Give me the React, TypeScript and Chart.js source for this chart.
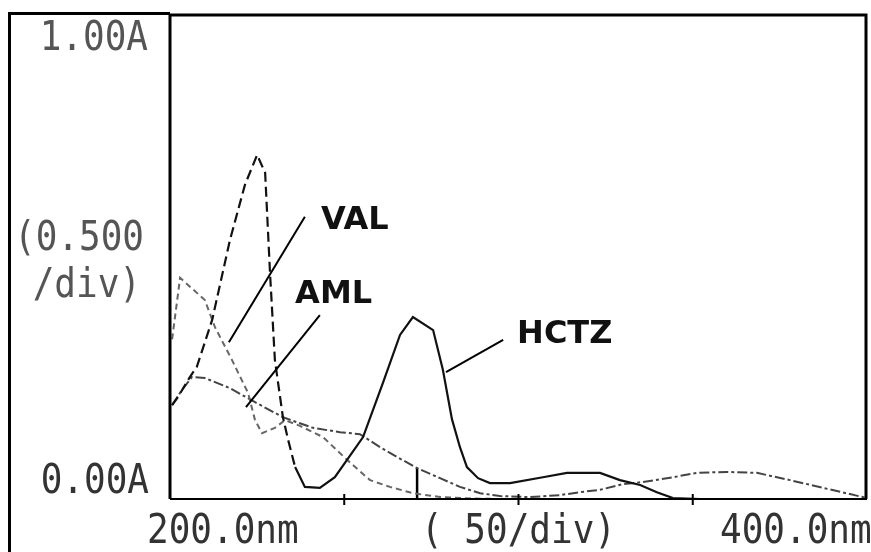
import React, { useEffect, useRef } from "react";
import { Chart, registerables } from "chart.js";

Chart.register(...registerables);

const W = 871;
const H = 552;

// ---- data (wavelength in nm, absorbance in A) ----
const hctzNm = [200.6, 202.3, 205.7, 207.7, 212.1, 217.2, 221.5, 225.0, 227.3, 228.7, 230.1, 232.4, 233.9, 235.9, 238.7, 243.0, 247.3, 250.8, 255.4, 261.1, 266.0, 269.7, 275.5, 278.3, 280.9, 283.2, 285.2, 288.4, 291.8, 297.6, 307.0, 313.9, 323.4, 329.1, 334.9, 339.7, 344.3, 352.1, 400.0];
const hctzAbs = [0.194, 0.211, 0.252, 0.273, 0.370, 0.535, 0.649, 0.711, 0.674, 0.467, 0.287, 0.169, 0.122, 0.066, 0.025, 0.023, 0.045, 0.081, 0.128, 0.240, 0.339, 0.376, 0.349, 0.267, 0.165, 0.107, 0.066, 0.043, 0.033, 0.033, 0.045, 0.054, 0.054, 0.039, 0.029, 0.014, 0.002, 0.0, 0.0];

const valNm = [200.6, 202.9, 210.0, 212.9, 217.8, 222.4, 224.4, 226.4, 230.1, 233.0, 237.3, 243.9, 250.8, 257.4, 263.1, 269.7, 277.5, 286.1, 294.7, 400.0];
const valAbs = [0.33, 0.457, 0.411, 0.355, 0.287, 0.219, 0.163, 0.136, 0.147, 0.163, 0.151, 0.128, 0.081, 0.039, 0.025, 0.012, 0.004, 0.001, 0.0, 0.0];

const amlNm = [200.6, 203.4, 206.3, 210.0, 217.2, 224.4, 232.4, 241.0, 248.8, 254.5, 260.3, 265.1, 270.9, 277.5, 283.2, 289.0, 294.7, 303.3, 311.9, 317.6, 323.4, 330.0, 335.7, 344.3, 351.2, 359.8, 368.4, 377.9, 387.4, 400.0];
const amlAbs = [0.194, 0.225, 0.252, 0.25, 0.229, 0.2, 0.169, 0.147, 0.138, 0.134, 0.107, 0.087, 0.064, 0.043, 0.025, 0.012, 0.006, 0.004, 0.008, 0.014, 0.019, 0.031, 0.035, 0.045, 0.054, 0.056, 0.054, 0.039, 0.023, 0.002];

const markerNm = [270.9, 270.9];
const markerAbs = [0.0, 0.064];

// axis text
const yLabelText = ["1.00A", "(0.500", "/div)", "0.00A"];
const xLabelText = ["200.0nm", "( 50/div)", "400.0nm"];
const xTickNm = [250, 300, 350];

// annotations (anchored in data space)
const annoText = ["VAL", "AML", "HCTZ"];
const annoTextNm = [243.3, 235.9, 299.6];
const annoTextAbs = [0.558, 0.405, 0.322];
const leaderFromNm = [238.7, 243.0, 295.6];
const leaderFromAbs = [0.583, 0.38, 0.329];
const leaderToNm = [216.9, 221.8, 279.2];
const leaderToAbs = [0.324, 0.19, 0.262];

const toPts = (xs: number[], ys: number[]) => xs.map((x, i) => ({ x, y: ys[i] }));

const MONO = '40px "DejaVu Sans Mono", monospace';

function monoText(ctx: CanvasRenderingContext2D, t: string, x: number, y: number, align: CanvasTextAlign) {
  ctx.save();
  ctx.translate(x, y);
  ctx.scale(0.9, 1);
  ctx.font = MONO;
  ctx.textAlign = align;
  ctx.textBaseline = "alphabetic";
  ctx.fillText(t, 0, 0);
  ctx.restore();
}

const framePlugin = {
  id: "framePlugin",
  beforeDraw(chart: any) {
    const ctx = chart.ctx as CanvasRenderingContext2D;
    ctx.save();
    ctx.fillStyle = "#fff";
    ctx.fillRect(0, 0, W, H);
    ctx.restore();
  },
  afterDatasetsDraw(chart: any) {
    const ctx = chart.ctx as CanvasRenderingContext2D;
    const xs = chart.scales.x;
    const ys = chart.scales.y;
    ctx.save();
    // leader lines
    ctx.strokeStyle = "#000";
    ctx.lineWidth = 2;
    for (let i = 0; i < annoText.length; i++) {
      ctx.beginPath();
      ctx.moveTo(xs.getPixelForValue(leaderFromNm[i]), ys.getPixelForValue(leaderFromAbs[i]));
      ctx.lineTo(xs.getPixelForValue(leaderToNm[i]), ys.getPixelForValue(leaderToAbs[i]));
      ctx.stroke();
    }
    ctx.fillStyle = "#111";
    ctx.font = 'bold 32px "DejaVu Sans", sans-serif';
    ctx.textAlign = "left";
    ctx.textBaseline = "alphabetic";
    for (let i = 0; i < annoText.length; i++) {
      ctx.fillText(annoText[i], xs.getPixelForValue(annoTextNm[i]), ys.getPixelForValue(annoTextAbs[i]));
    }
    ctx.restore();
  },
  afterDraw(chart: any) {
    const ctx = chart.ctx as CanvasRenderingContext2D;
    const a = chart.chartArea;
    const xs = chart.scales.x;
    const ys = chart.scales.y;
    ctx.save();
    ctx.strokeStyle = "#000";
    // outer border (left + top)
    ctx.lineWidth = 3;
    ctx.beginPath();
    ctx.moveTo(9.5, H);
    ctx.lineTo(9.5, 13.5);
    ctx.lineTo(a.left, 13.5);
    ctx.stroke();
    // plot frame
    ctx.lineWidth = 3;
    ctx.beginPath();
    ctx.moveTo(a.left, a.bottom);
    ctx.lineTo(a.left, a.top);
    ctx.lineTo(a.right - 1, a.top);
    ctx.lineTo(a.right - 1, a.bottom);
    ctx.stroke();
    ctx.lineWidth = 2;
    ctx.beginPath();
    ctx.moveTo(a.left, a.bottom);
    ctx.lineTo(a.right, a.bottom);
    ctx.stroke();
    // x ticks
    ctx.lineWidth = 2;
    for (const v of xTickNm) {
      const px = xs.getPixelForValue(v);
      ctx.beginPath();
      ctx.moveTo(px, a.bottom - 5);
      ctx.lineTo(px, a.bottom + 6);
      ctx.stroke();
    }
    // y axis labels
    const yTop = ys.getPixelForValue(1);
    const yMid = ys.getPixelForValue(0.5);
    const yZero = ys.getPixelForValue(0);
    ctx.fillStyle = "#555";
    monoText(ctx, yLabelText[0], a.left - 22, yTop + 35, "right");
    monoText(ctx, yLabelText[1], a.left - 26, yMid - 7, "right");
    monoText(ctx, yLabelText[2], a.left - 29, yMid + 40, "right");
    ctx.fillStyle = "#333";
    monoText(ctx, yLabelText[3], a.left - 21, yZero - 6, "right");
    // x axis labels
    const base = a.bottom + 44;
    monoText(ctx, xLabelText[0], xs.getPixelForValue(200) - 23, base, "left");
    monoText(ctx, xLabelText[1], xs.getPixelForValue(300), base, "center");
    monoText(ctx, xLabelText[2], xs.getPixelForValue(400) - 147, base, "left");
    ctx.restore();
  },
};

export default function App() {
  const ref = useRef<HTMLCanvasElement | null>(null);

  useEffect(() => {
    if (!ref.current) return;
    const chart = new Chart(ref.current, {
      type: "line",
      data: {
        datasets: [
          {
            label: "HCTZ",
            data: toPts(hctzNm, hctzAbs),
            borderColor: "#111",
            borderWidth: 2.2,
            segment: {
              borderDash: (c: any) => (c.p1.parsed.x <= 236 ? [10, 5] : undefined),
            },
          } as any,
          {
            label: "VAL",
            data: toPts(valNm, valAbs),
            borderColor: "#666",
            borderWidth: 2,
            borderDash: [6, 4],
          },
          {
            label: "AML",
            data: toPts(amlNm, amlAbs),
            borderColor: "#444",
            borderWidth: 2,
            borderDash: [10, 3, 3, 3],
          },
          {
            label: "marker",
            data: toPts(markerNm, markerAbs),
            borderColor: "#000",
            borderWidth: 2.5,
          },
        ],
      },
      options: {
        animation: false,
        responsive: false,
        events: [],
        parsing: false as any,
        layout: { padding: { left: 170, top: 15, right: 4, bottom: 53 } },
        elements: { point: { radius: 0 }, line: { tension: 0 } },
        plugins: { legend: { display: false }, tooltip: { enabled: false } },
        scales: {
          x: { type: "linear", min: 200, max: 400, display: false },
          y: { type: "linear", min: 0, max: 1, display: false },
        },
      },
      plugins: [framePlugin],
    });
    return () => chart.destroy();
  }, []);

  return (
    <div style={{ position: "fixed", left: 0, top: 0, width: W, height: H, background: "#fff" }}>
      <canvas ref={ref} width={W} height={H} style={{ display: "block" }} />
    </div>
  );
}
